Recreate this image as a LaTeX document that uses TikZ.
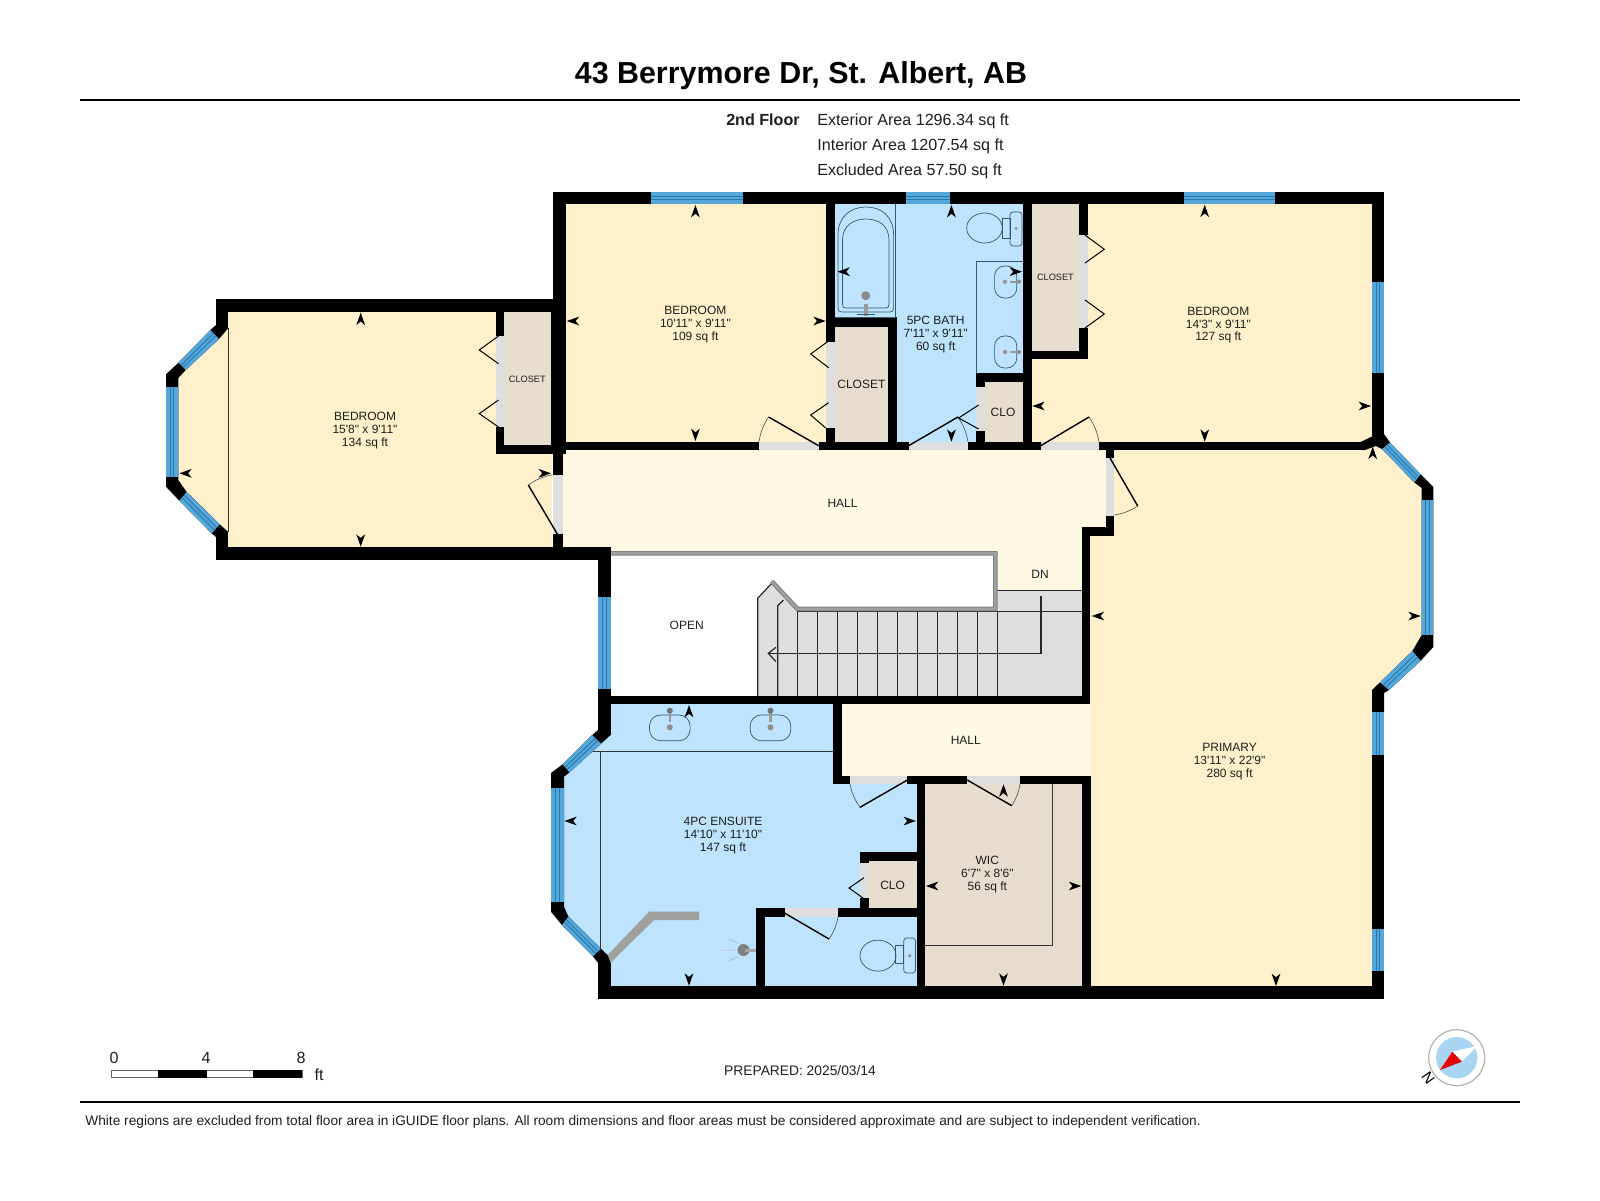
\documentclass[tikz,border=0pt]{standalone}
\usepackage{fontspec}
\setmainfont{Liberation Sans}[Ligatures=TeXOff]
\usetikzlibrary{calc}
\definecolor{wallc}{HTML}{000000}
\definecolor{bedc}{HTML}{FEF0CB}
\definecolor{hallc}{HTML}{FFF8E2}
\definecolor{bathc}{HTML}{BDE3FD}
\definecolor{closc}{HTML}{E7DDCE}
\definecolor{gapc}{HTML}{DEDEDE}
\definecolor{winc}{HTML}{55A6DA}
\definecolor{winl}{HTML}{2878AB}
\definecolor{fixc}{HTML}{2F5A75}
\definecolor{railc}{HTML}{A0A0A0}
\definecolor{txtc}{HTML}{1E1E1E}
\tikzset{
 roomlabel/.style={font=\fontsize{6}{6.4}\selectfont,align=center,text=txtc,inner sep=0pt},
 roomtri/.style={roomlabel,yshift=-0.8pt},
 smalllabel/.style={font=\fontsize{4.6}{5}\selectfont,align=center,text=txtc,inner sep=0pt},
 fixture/.style={draw=fixc,line width=.35pt},
 doorleaf/.style={draw=black,line width=.7pt},
 doorarc/.style={draw=black!70,line width=.3pt},
 stairline/.style={draw=black!85,line width=.6pt},
 infotext/.style={font=\fontsize{8.05}{9}\selectfont,text=txtc,inner sep=0pt,anchor=west},
}
\newcommand{\wl}[4]{\fill[wallc] (#1,#2) rectangle (#3,#4);}
\newcommand{\gp}[4]{\fill[gapc] (#1,#2) rectangle (#3,#4);}
\newcommand{\win}[8]{%
 \coordinate (wa) at (#1,#2);\coordinate (wb) at (#3,#4);\coordinate (wc) at (#5,#6);\coordinate (wd) at (#7,#8);
 \fill[winc] (wa)--(wb)--(wc)--(wd)--cycle;
 \draw[winl,line width=.45pt] ($(wa)!.36!(wd)$)--($(wb)!.36!(wc)$);
 \draw[winl,line width=.45pt] ($(wa)!.64!(wd)$)--($(wb)!.64!(wc)$);}
\newcommand{\dr}[6]{%
 \coordinate (dh) at (#1,#2);\coordinate (dt) at (#3,#4);\coordinate (de) at (#5,#6);
 \draw[doorarc] (dt) .. controls ($(dt)-0.316*(dt)+0.316*(dh)+0.351*(de)-0.351*(dh)$) and ($(de)-0.316*(de)+0.316*(dh)+0.351*(dt)-0.351*(dh)$) .. (de);
 \draw[doorleaf] (dh)--(dt);}
\newcommand{\bif}[6]{\draw[draw=black,line width=.5pt] (#1,#2)--(#3,#4)--(#5,#6);}
\newcommand{\mk}[3]{\fill[black,shift={(#1,#2)},rotate=#3] (0,0)--(-6.2pt,2.2pt)--(-4.4pt,0)--(-6.2pt,-2.2pt)--cycle;}
\begin{document}
\begin{tikzpicture}[x=0.5pt,y=-0.5pt]
\useasboundingbox (0,0) rectangle (1600,1200);
\fill[white] (0,0) rectangle (1600,1200);
% ---- header
\node[inner sep=0pt,font=\fontsize{15.2}{18}\bfseries\selectfont] (title) at (801,75.5) {43 Berrymore Dr, St. Albert, AB};
\fill[black] (80,98.7) rectangle (1520,101.3);
\node[infotext,anchor=east,font=\fontsize{8.05}{9}\bfseries\selectfont] (flr) at (800,119.6) {2nd Floor};
\node[infotext] (ext) at (817,121.5) {Exterior Area 1296.34 sq ft};
\node[infotext] (int) at (817,146.8) {Interior Area 1207.54 sq ft};
\node[infotext] (exc) at (817,171.5) {Excluded Area 57.50 sq ft};
% ---- room fills
\fill[bedc] (178.3,378)--(185.7,370)--(219,339)--(228,327)--(228,312)--(496,312)--(496,454)--(552,454)--(552,547)--(228,547)--(228,532)--(219.7,524.3)--(186.7,492)--(178.3,480)--cycle;
\fill[closc] (504,312) rectangle (552,445);
\fill[bedc] (566,204) rectangle (826,442);
\fill[bathc] (834,204) rectangle (1024,442);
\fill[closc] (834,327) rectangle (889,442);
\fill[closc] (984,382) rectangle (1024,442);
\fill[closc] (1032,204) rectangle (1079,351);
\fill[bedc] (1032,359)--(1088,359)--(1088,204)--(1373,204)--(1373,442)--(1032,442)--cycle;
\fill[hallc] (563,450)--(1108,450)--(1108,528)--(1082,528)--(1082,591)--(997,591)--(997,552)--(611,552)--(611,548)--(563,548)--cycle;
\fill[bedc] (1112,450)--(1376,446)--(1382,449)--(1414.3,482.4)--(1421.7,488)--(1421.7,635)--(1412.3,651)--(1380,682.3)--(1372,690)--(1372,986)--(1090,986)--(1090,536)--(1112,536)--cycle;
\fill[hallc] (842,704) rectangle (1091,776);
\fill[bathc] (610.6,704)--(833,704)--(833,784)--(917,784)--(917,852)--(860,852)--(860,908)--(756,908)--(756,986)--(610.6,986)--(610.6,958)--(601,948.6)--(568.4,916.6)--(564,907)--(564,777)--(569.5,772.4)--(601,743.7)--(610.6,735)--cycle;
\fill[bathc] (764,917) rectangle (917,986);
\fill[closc] (869,861) rectangle (917,909);
\fill[closc] (925,784) rectangle (1082,986);
% ---- stairs
\fill[gapc] (757.7,696)--(757.7,598.3)--(771.7,583.3)--(796.7,611)--(997,611)--(997,590.7)--(1082,590.7)--(1082,696)--cycle;
\draw[stairline] (757.7,696)--(757.7,598.3)--(771.7,583.3);
\draw[stairline] (777.7,696)--(777.7,605.7)--(783.5,600);
\foreach \tx in {797.7,817.7,837.7,857.7,877.7,897.7,917.7,937.7,957.7,977.7,997.3}{\draw[stairline] (\tx,611.7)--(\tx,696);}
\draw[stairline] (797,611.7)--(1082,611.7);
\draw[stairline] (997,590.7)--(1082,590.7);
\draw[stairline] (1041,596)--(1041,653.3)--(769,653.3);
\draw[stairline] (776,647.3)--(768.3,653.3)--(776,661.7);
% railing
\draw[black!50,line width=2.3pt,line join=miter] (611,553.3)--(995.3,553.3)--(995.3,609)--(797.5,609)--(771.7,581.3);
\draw[railc,line width=1.3pt,line join=miter] (611,553.3)--(995.3,553.3)--(995.3,609)--(797.5,609)--(771.7,581.3);
% ---- door gaps
\gp{759}{441.7}{819}{450}
\gp{909}{441.7}{968}{450}
\gp{1041}{441.7}{1099}{450}
\gp{553}{475}{563}{534}
\gp{826}{342}{835}{428}
\gp{976.4}{387}{985}{431}
\gp{1079}{235}{1088}{328}
\gp{496}{336}{504}{427}
\gp{1105.7}{458}{1114.3}{516}
\gp{850}{775.5}{907.4}{784}
\gp{967.3}{775.5}{1020}{784}
\gp{784.5}{908}{838}{917}
\gp{860.4}{863}{869.2}{898}
% ---- walls
\wl{553}{192}{1384}{204.3}
\wl{553}{192}{566}{442}
\wl{553}{442}{563}{475}
\wl{553}{534}{563}{548}
\wl{216}{299.3}{566}{312.3}
\wl{216}{299.3}{228.3}{328}
\wl{496}{312}{504}{336}
\wl{496}{427}{504}{454}
\wl{496}{445}{553}{454}
\wl{551}{312}{566}{454}
\wl{216}{547.3}{611}{560}
\wl{216}{532}{228.3}{560}
\fill[wallc] (216,325)--(210.3,330)--(178.6,362.6)--(166,374.3)--(166,486.7)--(179.3,500.7)--(211.6,533.4)--(216,537)--(228.3,532)--(219.7,524.3)--(186.7,492)--(178.3,480)--(178.3,378)--(185.7,370)--(219,339)--(228.3,328)--cycle;
\wl{1372}{192}{1384}{282}
\wl{1372}{373}{1384}{441}
\wl{598}{548}{610.7}{597}
\wl{598}{689}{610.7}{735}
\wl{598}{695.7}{1090}{704.3}
\wl{1081.7}{527.3}{1090}{704}
\wl{1081.7}{527.3}{1114.3}{536}
\wl{1105.7}{516}{1114.3}{536}
\wl{1105.7}{450}{1114.3}{458}
\wl{553}{441.7}{759}{450}
\wl{819}{441.7}{909}{450}
\wl{968}{441.7}{1041}{450}
\wl{1099}{441.7}{1362}{450}
\fill[wallc] (1361,441.7)--(1371,437)--(1384,434)--(1390,442.6)--(1420.7,474.3)--(1433.3,487)--(1433.3,647)--(1420.7,660.7)--(1389,690)--(1384,693)--(1384,712)--(1372,712)--(1372,690)--(1380,682.3)--(1412.3,651)--(1421.7,635)--(1421.7,488)--(1414.3,482.4)--(1382,449)--(1376,446)--(1365,450)--(1361,450)--cycle;
\wl{826}{204}{835}{342}
\wl{826}{428}{835}{442}
\wl{835}{317.3}{897}{327}
\wl{888}{327}{897}{442}
\wl{1023}{204}{1032}{442}
\wl{976.4}{373}{1023}{382}
\wl{976.4}{382}{985}{387}
\wl{976.4}{431}{985}{442}
\wl{1079}{204}{1088}{235}
\wl{1079}{328}{1088}{359}
\wl{1032}{351}{1088}{359}
% lower part
\wl{832.6}{704}{842}{784}
\wl{832.6}{775.5}{850}{784}
\wl{907.4}{775.5}{967.3}{784}
\wl{1020}{775.5}{1091}{784}
\wl{916.6}{784}{925}{998}
\wl{1082}{776}{1091}{998}
\wl{598}{986}{1384}{999}
\wl{1372}{755}{1384}{929}
\wl{1372}{971}{1384}{999}
\wl{860.4}{852.3}{917}{861}
\wl{860.4}{852.3}{869.2}{863}
\wl{860.4}{898}{869.2}{917}
\wl{755.7}{908}{784.5}{917}
\wl{838}{908}{917}{917}
\wl{755.7}{908}{764.6}{986}
\wl{598}{958}{610.6}{999}
\fill[wallc] (598,730)--(592.2,735)--(562.6,764.3)--(551,773)--(551,911.7)--(561.9,925)--(592.9,956.4)--(598.4,963.3)--(610.6,958)--(601,948.6)--(568.4,916.6)--(564,906.7)--(564,776.7)--(569.5,772.4)--(601,743.7)--(610.6,735)--cycle;
% ---- windows
\win{651.4}{192}{742.5}{192}{742.5}{204.3}{651.4}{204.3}
\win{906}{192}{950}{192}{950}{204.3}{906}{204.3}
\win{1184}{192}{1275}{192}{1275}{204.3}{1184}{204.3}
\win{1384}{282}{1384}{373}{1372}{373}{1372}{282}
\win{1384}{711.7}{1384}{755}{1372}{755}{1372}{711.7}
\win{1384}{928.6}{1384}{971}{1372}{971}{1372}{928.6}
\win{1433.3}{500}{1433.3}{635}{1421.7}{635}{1421.7}{500}
\win{1390}{442.6}{1420.7}{474.3}{1414.3}{482.4}{1382}{449}
\win{1420.7}{660.7}{1389}{690}{1380}{682.3}{1412.3}{651}
\win{610.7}{597}{610.7}{689}{598}{689}{598}{597}
\win{210.3}{330}{178.6}{362.6}{185.7}{370}{219}{339}
\win{166}{386.7}{166}{477.3}{178.3}{477.3}{178.3}{386.7}
\win{179.3}{500.7}{211.6}{533.4}{219.7}{524.3}{186.7}{492}
\win{592.2}{735}{562.6}{764.3}{569.5}{772.4}{601}{743.7}
\win{551}{788.3}{551}{901.7}{564}{901.7}{564}{788.3}
\win{561.9}{925}{592.9}{956.4}{601}{948.6}{568.4}{916.6}
% ---- thin room lines
\draw[fixture,draw=black!80] (228,328)--(228,532);
\draw[fixture,draw=black!80] (600.3,751.7)--(600.3,950);
\draw[fixture,draw=black!80] (593,751.7)--(832.6,751.7);
\draw[fixture,draw=black!80] (1052.8,784)--(1052.8,945.7)--(925,945.7);
% ---- doors
\dr{818.6}{445.7}{768.6}{417}{759}{441.7}
\dr{908.6}{445.7}{957.9}{417}{968}{441.7}
\dr{1040.7}{445.7}{1089}{417}{1099}{441.7}
\dr{907.4}{780}{860}{807.3}{850}{784}
\dr{967.3}{780}{1011.7}{805.7}{1020}{784}
\dr{784.5}{913}{829}{939}{838}{917}
\dr{557.3}{534}{528.3}{485}{551.7}{475}
\dr{1110}{458}{1137.7}{506}{1114}{515}
\bif{827.5}{341.7}{810.7}{354}{828.6}{367.7}
\bif{828.6}{402.7}{810.7}{415}{825.7}{428}
\bif{978.6}{405}{958.6}{418}{978.6}{429}
\bif{1085}{235}{1104.3}{249.3}{1085}{263}
\bif{1085}{300}{1104.3}{314}{1085}{328}
\bif{498.5}{336}{479.3}{350}{498.5}{363.7}
\bif{498.5}{400}{479.3}{413.7}{498.5}{427}
\bif{864}{877.7}{849}{888}{863}{898}
% ---- fixtures: tub
\draw[fixture] (838,308)--(838,235) .. controls (838,216) and (851,207) .. (866,207) .. controls (881,207) and (893.6,216) .. (893.6,235)--(893.6,308) .. controls (893.6,311) and (892,312) .. (890,312)--(842,312) .. controls (839,312) and (838,311) .. (838,308)--cycle;
\draw[fixture] (842.5,304)--(842.5,240) .. controls (842.5,226) and (853,219) .. (866,219) .. controls (879,219) and (889,226) .. (889,240)--(889,304) .. controls (889,307) and (888,308) .. (886,308)--(846,308) .. controls (843.5,308) and (842.5,307) .. (842.5,304)--cycle;
\draw[fixture] (895.4,204)--(895.4,317)--(835,317);
\fill[black!45] (865.7,295.7) circle[radius=4.5];
\fill[black!40] (863.7,303.5) rectangle (867.7,316);
\draw[fixture] (857,314.5)--(875,314.5);
% upper toilet
\draw[fixture] (984.5,228) ellipse[x radius=17.8,y radius=15];
\draw[fixture] (1002,218) rectangle (1010,238);
\draw[fixture,rounded corners=1.5pt] (1010,212) rectangle (1022,246);
\fill[black!45] (1016,228.5) circle[radius=1.5];
% upper vanity
\draw[fixture] (976.4,261)--(1023,261);
\draw[fixture] (976.4,261)--(976.4,373);
\draw[fixture,rounded corners=5pt] (994.6,266) rectangle (1016.8,298);
\draw[fixture,rounded corners=5pt] (994.6,336) rectangle (1016.8,368);
\foreach \yy in {281.7,352}{
 \fill[black!40] (1005,\yy) circle[radius=2.2];
 \fill[black!40] (1010,\yy-1.2) rectangle (1019,\yy+1.2);
 \fill[black!45] (1019,\yy) circle[radius=2];}
% lower sinks
\foreach \xx in {669.8,770.5}{
 \draw[fixture,rounded corners=5.5pt] (\xx-20.3,715) rectangle (\xx+20.3,740.7);
 \fill[black!45] (\xx,727.3) circle[radius=3];
 \fill[black!40] (\xx-1.2,712) rectangle (\xx+1.2,722);
 \fill[black!55] (\xx,710.7) circle[radius=3];}
% shower
\fill[railc] (607.7,955)--(649,911.7)--(699,911.7)--(699,920)--(654,920)--(610.6,962.7)--cycle;
\fill[black!50] (743.5,950) circle[radius=6];
\fill[black!35] (745,948.5) rectangle (756,951.5);
\draw[black!30,line width=.25pt] (735,950)--(721,950) (738.5,943.5)--(729,939) (738.5,956.5)--(729,961);
% lower toilet
\draw[fixture] (878,955.6) ellipse[x radius=18,y radius=15.5];
\draw[fixture] (895.8,945.7) rectangle (903.7,963.3);
\draw[fixture,rounded corners=1.5pt] (903.7,938) rectangle (915.5,973);
\fill[black!45] (909.6,955.7) circle[radius=1.7];
% ---- dimension markers
\mk{695.4}{205}{90}\mk{695.4}{441}{270}\mk{566.8}{321}{180}\mk{825.7}{321}{0}
\mk{951.4}{205}{90}\mk{951.4}{441.7}{270}\mk{837.5}{271.7}{180}\mk{1022}{271.7}{0}
\mk{360.7}{312.7}{90}\mk{360.7}{546.7}{270}\mk{179.3}{473.3}{180}\mk{551}{473.3}{0}
\mk{1204.7}{204.7}{90}\mk{1204.7}{441.7}{270}\mk{1032.3}{406}{180}\mk{1371}{406}{0}
\mk{1372.7}{446.7}{90}\mk{1276}{986}{270}\mk{1091.7}{616}{180}\mk{1420.7}{616}{0}
\mk{689}{705}{90}\mk{689}{985.7}{270}\mk{564.4}{821}{180}\mk{915.9}{821}{0}
\mk{1003.5}{784.3}{90}\mk{1003.5}{985.7}{270}\mk{925.9}{886}{180}\mk{1081.2}{886}{0}
% ---- room labels
\node[roomtri] (r1) at (365,429) {BEDROOM\\15'8" x 9'11"\\134 sq ft};
\node[roomtri] (r2) at (695.4,322.7) {BEDROOM\\10'11" x 9'11"\\109 sq ft};
\node[roomtri] (r3) at (935.7,333) {5PC BATH\\7'11" x 9'11"\\60 sq ft};
\node[roomtri] (r4) at (1218.3,323.5) {BEDROOM\\14'3" x 9'11"\\127 sq ft};
\node[roomtri] (r5) at (1229.6,760) {PRIMARY\\13'11" x 22'9"\\280 sq ft};
\node[roomtri] (r6) at (723,833.7) {4PC ENSUITE\\14'10" x 11'10"\\147 sq ft};
\node[roomtri] (r7) at (987.3,873) {WIC\\6'7" x 8'6"\\56 sq ft};
\node[smalllabel] (c1) at (527.3,379.2) {CLOSET};
\node[smalllabel] (c2) at (1055.4,277.5) {CLOSET};
\node[roomlabel] (c3) at (861.4,384.3) {CLOSET};
\node[roomlabel] (c4) at (1003,411.9) {CLO};
\node[roomlabel] (c5) at (892.6,885) {CLO};
\node[roomlabel] (h1) at (842.5,503.2) {HALL};
\node[roomlabel] (h2) at (965.8,740) {HALL};
\node[roomlabel] (dn) at (1040,574) {DN};
\node[roomlabel] (op) at (686.7,625) {OPEN};
% ---- scale bar
\draw[black!60,line width=.4pt,fill=white] (111.7,1070) rectangle (302.3,1077.7);
\fill[black] (157.7,1070) rectangle (206.7,1077.7);
\fill[black] (252.7,1070) rectangle (302.3,1077.7);
\node[infotext,anchor=center] (s0) at (114,1057.5) {0};
\node[infotext,anchor=center] (s4) at (206,1057.5) {4};
\node[infotext,anchor=center] (s8) at (301,1057.5) {8};
\node[infotext,anchor=center] (sft) at (319,1075) {ft};
% ---- prepared
\node[inner sep=0pt,text=txtc,font=\fontsize{6.9}{8}\selectfont] (prep) at (800,1071) {PREPARED: 2025/03/14};
% ---- compass
\definecolor{compc}{HTML}{A9D5F2}
\draw[black!30,line width=.6pt,fill=white] (1456.7,1057.7) circle[radius=28];
\fill[compc] (1456.7,1057.7) circle[radius=20.7];
\fill[white] (1477.3,1046)--(1452.3,1051.7)--(1461.7,1061.7)--cycle;
\fill[red!90!black] (1440,1070)--(1452.3,1051.7)--(1461.7,1061.7)--cycle;
\node[inner sep=0pt,rotate=125,font=\fontsize{7.5}{8}\selectfont] (north) at (1428.3,1077.7) {N};
% ---- footer
\fill[black] (80,1100.8) rectangle (1520,1103.2);
\node[infotext,font=\fontsize{6.85}{8}\selectfont] (foot) at (85,1122) {White regions are excluded from total floor area in iGUIDE floor plans. All room dimensions and floor areas must be considered approximate and are subject to independent verification.};
\end{tikzpicture}
\end{document}
